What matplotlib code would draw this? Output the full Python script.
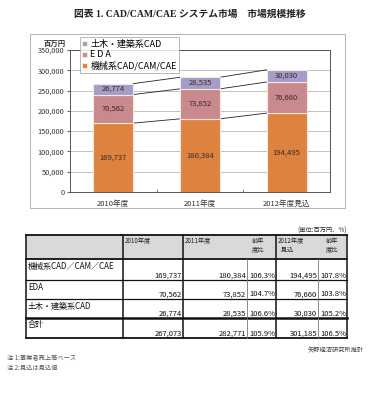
import matplotlib
matplotlib.use('Agg')
import matplotlib.pyplot as plt
from matplotlib.patches import Rectangle
import numpy as np

plt.rcParams['font.family'] = ['Noto Sans CJK JP', 'DejaVu Sans']

years = ['2010年度', '2011年度', '2012年度見込']
mech = [169737, 180384, 194495]
eda = [70562, 73852, 76660]
civil = [26774, 28535, 30030]
total = [267073, 282771, 301185]
series_names = ['機械系CAD/CAM/CAE', 'E D A', '土木・建築系CAD']
colors = ['#de8240', '#c98a8e', '#a49cc9']

row_labels = ['機械系CAD／CAM／CAE', 'EDA', '土木・建築系CAD', '合計']
yoy_2011 = ['106.3%', '104.7%', '106.6%', '105.9%']
yoy_2012 = ['107.8%', '103.8%', '105.2%', '106.5%']

W, H = 381, 400
fig = plt.figure(figsize=(W / 100, H / 100), dpi=100)

# overlay in pixel coordinates
ov = fig.add_axes([0, 0, 1, 1])
ov.set_xlim(0, W)
ov.set_ylim(H, 0)
ov.axis('off')

title_font = ['Liberation Serif', 'Noto Sans CJK JP']
ov.text(190, 14, '図表 1. CAD/CAM/CAE システム市場　市場規模推移', ha='center', va='center',
        fontsize=7, fontweight='bold', family=title_font, color='#222222')

# chart border
ov.add_patch(Rectangle((30, 34), 315, 174, fill=False, edgecolor='#b8b8b8', lw=0.8))

# chart
ax = fig.add_axes([70 / W, 1 - 192 / H, 260 / W, 142 / H])
x = np.arange(len(years))
bw = 0.46
stacks = [mech, eda, civil]
bottom = np.zeros(len(years))
tops = []
for vals, name, c in zip(stacks, series_names, colors):
    vals = np.array(vals)
    ax.bar(x, vals, bw, bottom=bottom, color=c, edgecolor='#f6e6dc', lw=0.8, label=name, zorder=3)
    for xi, b, v in zip(x, bottom, vals):
        ax.text(xi, b + v / 2, f'{v:,}', ha='center', va='center', fontsize=5.5, color='#3a2a20', zorder=4)
    bottom = bottom + vals
    tops.append(bottom.copy())

# series lines
for t in tops:
    for i in range(len(years) - 1):
        ax.plot([x[i] + bw / 2, x[i + 1] - bw / 2], [t[i], t[i + 1]], color='#222222', lw=0.6, zorder=2)

ax.set_xlim(-0.5, 2.5)
ax.set_ylim(0, 350000)
ax.set_yticks(np.arange(0, 350001, 50000))
ax.set_yticklabels([f'{v:,}' for v in range(0, 350001, 50000)], fontsize=5.3, color='#333333')
ax.set_xticks(x)
ax.set_xticklabels(years, fontsize=5.5, color='#333333')
ax.set_xticks([0.5, 1.5], minor=True)
ax.tick_params(axis='x', which='major', length=0, pad=6)
ax.tick_params(axis='x', which='minor', length=2, direction='in', color='#666666')
ax.tick_params(axis='y', length=2, color='#666666', pad=2)
ax.grid(axis='y', color='#b5b5b5', lw=0.6, zorder=0)
for s in ax.spines.values():
    s.set_color('#555555')
    s.set_linewidth(0.7)

ov.text(55, 43, '百万円', ha='center', va='center', fontsize=5.3, fontweight='bold', color='#333333')

h, l = ax.get_legend_handles_labels()
leg = fig.legend(h[::-1], l[::-1], loc='upper left', bbox_to_anchor=(80 / W, 1 - 37 / H),
                 fontsize=6.5, frameon=True, fancybox=False, handlelength=0.5, handleheight=0.5,
                 handletextpad=0.4, borderpad=0.25, labelspacing=0.2, borderaxespad=0)
leg.get_frame().set_edgecolor('#999999')
leg.get_frame().set_linewidth(0.6)
leg.set_zorder(10)

# table
cols = [26, 123, 183, 247, 276, 318, 347]
rows = [235, 259, 280, 299, 318, 338]
ov.add_patch(Rectangle((cols[0], rows[0]), cols[-1] - cols[0], rows[1] - rows[0],
                       facecolor='#d9d9d9', edgecolor='none'))
hw = [1.3, 1.3, 0.9, 0.9, 1.8, 1.3]
for yv, lw in zip(rows, hw):
    ov.plot([cols[0], cols[-1]], [yv, yv], color='#111111', lw=lw)
for xv in [cols[0], cols[1], cols[2], cols[4], cols[6]]:
    ov.plot([xv, xv], [rows[0], rows[-1]], color='#111111', lw=1.1)
for xv in [cols[3], cols[5]]:
    ov.plot([xv, xv], [rows[1], rows[-1]], color='#777777', lw=0.6)

ov.text(cols[1] + 2, rows[0] + 2, '2010年度', ha='left', va='top', fontsize=4.5, color='#222222')
ov.text(cols[2] + 2, rows[0] + 2, '2011年度', ha='left', va='top', fontsize=4.5, color='#222222')
ov.text(258, rows[0] + 2, '前年\n度比', ha='center', va='top', fontsize=4.5, color='#222222', linespacing=1.1)
ov.text(cols[4] + 2, rows[0] + 2, '2012年度\n  見込', ha='left', va='top', fontsize=4.5, color='#222222', linespacing=1.1)
ov.text(332, rows[0] + 2, '前年\n度比', ha='center', va='top', fontsize=4.5, color='#222222', linespacing=1.1)

v2010 = [mech[0], eda[0], civil[0], total[0]]
v2011 = [mech[1], eda[1], civil[1], total[1]]
v2012 = [mech[2], eda[2], civil[2], total[2]]
for i, lab in enumerate(row_labels):
    top, bot = rows[i + 1], rows[i + 2]
    ov.text(cols[0] + 2, top + 2.5, lab, ha='left', va='top', fontsize=5.8, color='#111111')
    ov.text(cols[2] - 1, bot - 0.5, f'{v2010[i]:,}', ha='right', va='bottom', fontsize=5.5, color='#111111')
    ov.text(cols[3] - 1, bot - 0.5, f'{v2011[i]:,}', ha='right', va='bottom', fontsize=5.5, color='#111111')
    ov.text(cols[4] - 1, bot - 0.5, yoy_2011[i], ha='right', va='bottom', fontsize=5.5, color='#111111')
    ov.text(cols[5] - 1, bot - 0.5, f'{v2012[i]:,}', ha='right', va='bottom', fontsize=5.5, color='#111111')
    ov.text(cols[6] - 1, bot - 0.5, yoy_2012[i], ha='right', va='bottom', fontsize=5.5, color='#111111')

ov.text(347, 231, '(単位:百万円、%)', ha='right', va='center', fontsize=4.5, color='#333333')
ov.text(364, 350, '矢野経済研究所推計', ha='right', va='center', fontsize=4.5, color='#444444')
ov.text(7, 358, '注 1:事業者売上高ベース', ha='left', va='center', fontsize=4.5, color='#555555')
ov.text(7, 368, '注 2:見込は見込値', ha='left', va='center', fontsize=4.5, color='#555555')

fig.savefig('out.png', dpi=100)
